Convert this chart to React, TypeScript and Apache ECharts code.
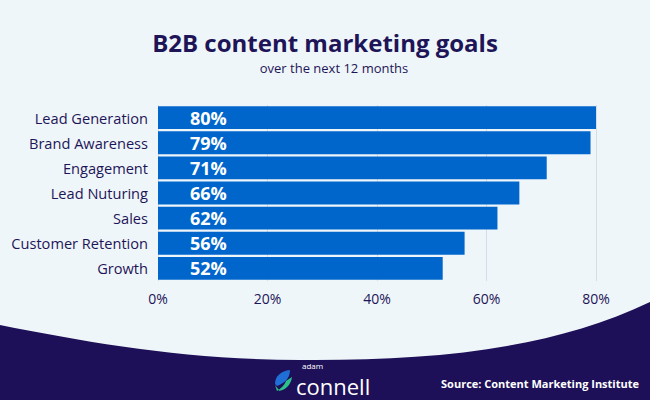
import React, { useEffect, useRef } from "react";
import * as echarts from "echarts";

const categories = ["Lead Generation", "Brand Awareness", "Engagement", "Lead Nuturing", "Sales", "Customer Retention", "Growth"];
const values = [80, 79, 71, 66, 62, 56, 52];
const xTicks = [0, 20, 40, 60, 80];

echarts.graphic.registerShape(
  "bottomWave",
  echarts.graphic.extendPath("M0,325 C90,343 190,360 300,360 C430,361 550,350 650,302 L650,400 L0,400 Z", {})
);
echarts.graphic.registerShape(
  "leafBlue",
  echarts.graphic.extendPath("M0,14 C0,6 6,1 15,0 C15,8 10,13 2,16 Z", {})
);
echarts.graphic.registerShape(
  "leafGreen",
  echarts.graphic.extendPath("M2,21 C10,21 16,15 17,7 L11,11 C9,16 6,18 2,21 Z M0,15 C3,19 6,21 2,21 Z", {})
);

export default function App() {
  const ref = useRef<HTMLDivElement>(null);
  useEffect(() => {
    if (!ref.current) return;
    const chart = echarts.init(ref.current, null, { renderer: "svg" });
    const font = "'Open Sans', sans-serif";
    chart.setOption({
      animation: false,
      backgroundColor: "#EFF6FA",
      title: [
        {
          text: "B2B content marketing goals",
          left: 320,
          textAlign: "center",
          top: 25,
          textStyle: { fontFamily: font, fontWeight: "bold", fontSize: 24, color: "#1E1558" },
        },
        {
          text: "over the next 12 months",
          left: 329,
          textAlign: "center",
          top: 56,
          textStyle: { fontFamily: font, fontWeight: "normal", fontSize: 13, color: "#1E1558" },
        },
      ],
      grid: { left: 158, right: 54, top: 105, height: 176, containLabel: false },
      xAxis: {
        type: "value",
        min: 0,
        max: 80,
        interval: 20,
        axisLine: { show: false },
        axisTick: { show: false },
        splitLine: { show: true, lineStyle: { color: "#D5DDE6", width: 1 } },
        axisLabel: {
          formatter: (v: number) => (xTicks.includes(v) ? v + "%" : ""),
          fontFamily: font,
          fontSize: 14,
          color: "#1E1558",
          margin: 10,
        },
      },
      yAxis: {
        type: "category",
        data: categories,
        inverse: true,
        axisLine: { show: false },
        axisTick: { show: false },
        axisLabel: { fontFamily: font, fontSize: 14.6, color: "#1E1558", margin: 10 },
      },
      series: [
        {
          type: "bar",
          data: values,
          barCategoryGap: "9%",
          itemStyle: { color: "#0066CC" },
          label: {
            show: true,
            position: "insideLeft",
            distance: 32,
            formatter: "{c}%",
            fontFamily: font,
            fontWeight: "bold",
            fontSize: 18,
            color: "#FFFFFF",
          },
        },
      ],
      graphic: [
        { type: "bottomWave", x: 0, y: 0, style: { fill: "#1E1058" }, z: -1 },
        { type: "leafBlue", x: 275, y: 370, style: { fill: "#1F6FD6" } },
        { type: "leafGreen", x: 275, y: 370, style: { fill: "#2CC28A" } },
        {
          type: "text",
          x: 302,
          y: 361,
          style: { text: "adam", fill: "#FFFFFF", font: "8px 'Open Sans', sans-serif", letterSpacing: 2 },
        },
        {
          type: "text",
          x: 296,
          y: 375,
          style: { text: "connell", fill: "#FFFFFF", font: "22px 'Open Sans', sans-serif", letterSpacing: 0.5 },
        },
        {
          type: "text",
          x: 639,
          y: 378,
          style: {
            text: "Source: Content Marketing Institute",
            fill: "#FFFFFF",
            font: "bold 11px 'Open Sans', sans-serif",
            textAlign: "right",
          },
        },
      ],
    });
    return () => chart.dispose();
  }, []);
  return <div ref={ref} style={{ width: 650, height: 400, position: "fixed", left: 0, top: 0 }} />;
}
